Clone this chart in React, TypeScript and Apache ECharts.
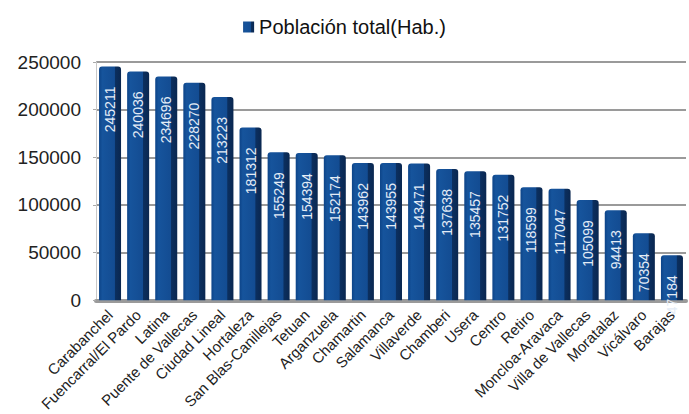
import React, { useEffect, useRef } from "react";
import * as echarts from "echarts";

const categories = [
  "Carabanchel", "Fuencarral/El Pardo", "Latina", "Puente de Vallecas", "Ciudad Lineal",
  "Hortaleza", "San Blas-Canillejas", "Tetuan", "Arganzuela", "Chamartin", "Salamanca",
  "Villaverde", "Chamberi", "Usera", "Centro", "Retiro", "Moncloa-Aravaca",
  "Villa de Vallecas", "Moratalaz", "Vicálvaro", "Barajas",
];
const values = [
  245211, 240036, 234696, 228270, 213223, 181312, 155249, 154394, 152174, 143962, 143955,
  143471, 137638, 135457, 131752, 118599, 117047, 105099, 94413, 70354, 47184,
];
const seriesName = "Población total(Hab.)";
const yTicks = { min: 0, max: 250000, interval: 50000 };

export default function App() {
  const ref = useRef<HTMLDivElement>(null);
  useEffect(() => {
    if (!ref.current) return;
    const chart = echarts.init(ref.current, null, { renderer: "svg" });
    const font = "'Liberation Sans', Arial, sans-serif";
    chart.setOption({
      animation: false,
      textStyle: { fontFamily: font },
      legend: {
        top: 12,
        left: "center",
        itemWidth: 11,
        itemHeight: 11,
        itemGap: 6,
        icon: "rect",
        textStyle: { fontSize: 20, color: "#111", fontFamily: font },
        data: [seriesName],
      },
      grid: { left: 96, right: 3, top: 62, bottom: 111, containLabel: false },
      xAxis: {
        type: "category",
        data: categories,
        axisLine: { lineStyle: { color: "#9a9a9a", width: 4 } },
        axisTick: { show: false },
        axisLabel: {
          interval: 0,
          rotate: 45,
          fontSize: 15,
          color: "#222",
          margin: 12,
          fontFamily: font,
        },
      },
      yAxis: {
        type: "value",
        min: yTicks.min,
        max: yTicks.max,
        interval: yTicks.interval,
        axisLine: { show: true, lineStyle: { color: "#c8c8c8", width: 1 } },
        axisTick: { show: true, length: 3, lineStyle: { color: "#aaa" } },
        axisLabel: {
          fontSize: 19,
          color: "#222",
          margin: 15,
          fontFamily: font,
          formatter: (v: number) => String(v),
        },
        splitLine: { lineStyle: { color: "#9a9a9a", width: 2 } },
      },
      series: [
        {
          name: seriesName,
          type: "bar",
          data: values,
          barWidth: 22,
          itemStyle: {
            color: new echarts.graphic.LinearGradient(0, 0, 1, 0, [
              { offset: 0, color: "#0d4488" },
              { offset: 0.15, color: "#16549c" },
              { offset: 0.7, color: "#134c92" },
              { offset: 0.74, color: "#0b2f5f" },
              { offset: 1, color: "#0a2750" },
            ]),
            borderRadius: [3, 3, 0, 0],
          },
          label: {
            show: true,
            position: "insideTop",
            rotate: 90,
            align: "right",
            verticalAlign: "middle",
            distance: 18,
            offset: [-2, 0],
            fontSize: 14,
            color: "#e4ecf6",
            fontFamily: font,
          },
        },
      ],
    });
    return () => chart.dispose();
  }, []);
  return <div ref={ref} style={{ width: 689, height: 414, position: "absolute", left: 0, top: 0, background: "#fff" }} />;
}
